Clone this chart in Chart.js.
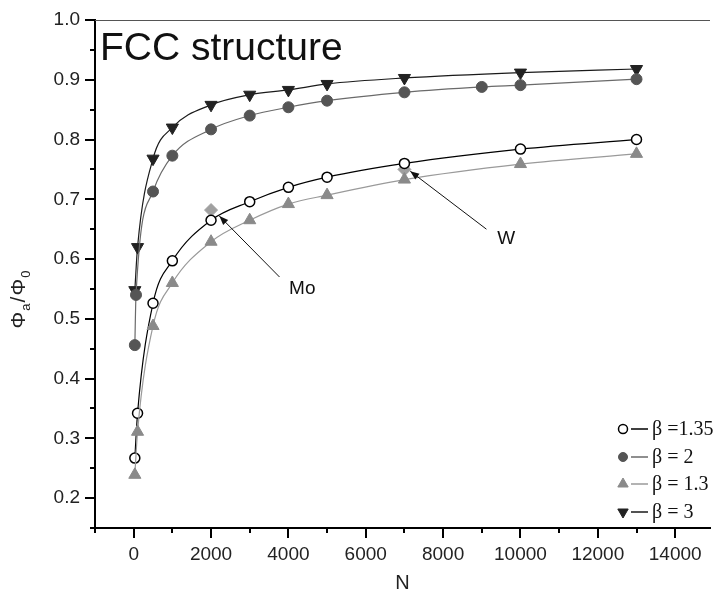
<!DOCTYPE html>
<html>
<head>
<meta charset="utf-8">
<script src="https://cdn.jsdelivr.net/npm/chart.js@4/dist/chart.umd.min.js"></script>
<style>
  html, body { margin: 0; padding: 0; background: #fff; }
  #wrap { width: 718px; height: 601px; }
</style>
</head>
<body>
<div id="wrap"><canvas id="phiChart" width="718" height="601"></canvas></div>
<script>
// cluster size N and the Φa/Φ0 ratio for each β
const nMain = [30, 100, 500, 1000, 2000, 3000, 4000, 5000, 7000, 10000, 13000];
const beta135 = [0.267, 0.342, 0.526, 0.597, 0.665, 0.696, 0.720, 0.737, 0.760, 0.784, 0.800];
const beta13 = [0.239, 0.311, 0.488, 0.560, 0.629, 0.665, 0.692, 0.707, 0.733, 0.759, 0.776];
const beta3 = [0.548, 0.620, 0.768, 0.820, 0.858, 0.875, 0.883, 0.893, 0.903, 0.912, 0.918];
const nBeta2 = [30, 60, 500, 1000, 2000, 3000, 4000, 5000, 7000, 9000, 10000, 13000];
const beta2 = [0.456, 0.540, 0.713, 0.773, 0.817, 0.840, 0.854, 0.865, 0.879, 0.888, 0.891, 0.901];

// measured metals
const metals = ['Mo', 'W'];
const metalN = [2000, 7000];
const metalPhi = [0.682, 0.750];

// where the metal labels and their arrows sit (data units)
const noteN = [4360, 9630];
const notePhi = [0.550, 0.634];
const arrowFromN = [3770, 9120];
const arrowFromPhi = [0.570, 0.650];
const arrowToN = [2215, 7150];
const arrowToPhi = [0.672, 0.747];

// axis ticks: every 1000 / 0.05, labelled every 2000 / 0.1
const xTickValues = [-1000, 0, 1000, 2000, 3000, 4000, 5000, 6000, 7000, 8000, 9000, 10000, 11000, 12000, 13000, 14000];
const xTickLabels = ['', '0', '', '2000', '', '4000', '', '6000', '', '8000', '', '10000', '', '12000', '', '14000'];
const yTickValues = [0.15, 0.2, 0.25, 0.3, 0.35, 0.4, 0.45, 0.5, 0.55, 0.6, 0.65, 0.7, 0.75, 0.8, 0.85, 0.9, 0.95, 1.0];
const yTickLabels = ['', '0.2', '', '0.3', '', '0.4', '', '0.5', '', '0.6', '', '0.7', '', '0.8', '', '0.9', '', '1.0'];

const legendLabels = ['β =1.35', 'β = 2', 'β = 1.3', 'β = 3'];

const pts = (xs, ys) => xs.map((x, i) => ({x: x, y: ys[i]}));

Chart.defaults.font.family = "'Liberation Sans', Arial, sans-serif";

const series = [
    {
        label: legendLabels[2], data: pts(nMain, beta13),
        borderColor: '#9a9a9a', backgroundColor: '#8a8a8a', pointBorderColor: '#8a8a8a',
        pointStyle: 'triangle', pointRadius: 7, pointRotation: 0
    },
    {
        label: legendLabels[0], data: pts(nMain, beta135),
        borderColor: '#000', backgroundColor: '#fff', pointBorderColor: '#000',
        pointStyle: 'circle', pointRadius: 5, pointBorderWidth: 1.5
    },
    {
        label: legendLabels[1], data: pts(nBeta2, beta2),
        borderColor: '#6a6a6a', backgroundColor: '#555', pointBorderColor: '#555',
        pointStyle: 'circle', pointRadius: 5.5
    },
    {
        label: legendLabels[3], data: pts(nMain, beta3),
        borderColor: '#1a1a1a', backgroundColor: '#222', pointBorderColor: '#222',
        pointStyle: 'triangle', pointRadius: 7, pointRotation: 180
    }
];

const datasets = series.map(s => Object.assign({
    borderWidth: 1.2,
    pointBackgroundColor: s.backgroundColor,
    pointBorderWidth: s.pointBorderWidth || 1,
    cubicInterpolationMode: 'monotone',
    fill: false
}, s));

datasets.push({
    label: 'metals', data: pts(metalN, metalPhi),
    showLine: false, pointStyle: 'rectRot', pointRadius: 6.5,
    pointBackgroundColor: '#a0a0a0', pointBorderColor: '#a0a0a0', pointBorderWidth: 1
});

const tickLabel = (values, labels) => v => {
    const i = values.findIndex(t => Math.abs(t - v) < 1e-6);
    return i < 0 ? '' : labels[i];
};

// frame line on top, short and long tick marks on both axes
const axisTicks = {
    id: 'axisTicks',
    afterDraw(chart) {
        const ctx = chart.ctx;
        const {left, right, top, bottom} = chart.chartArea;
        const xs = chart.scales.x, ys = chart.scales.y;
        ctx.save();
        ctx.strokeStyle = '#555';
        ctx.lineWidth = 1.2;
        ctx.beginPath();
        ctx.moveTo(left, top + 0.5);
        ctx.lineTo(right, top + 0.5);
        ctx.stroke();

        ctx.strokeStyle = '#000';
        ctx.lineWidth = 2;
        ctx.beginPath();
        xTickValues.forEach((v, i) => {
            const px = Math.round(xs.getPixelForValue(v));
            const len = xTickLabels[i] ? 10 : 5;
            ctx.moveTo(px, bottom);
            ctx.lineTo(px, bottom + len);
        });
        yTickValues.forEach((v, i) => {
            const py = Math.round(ys.getPixelForValue(v));
            const len = yTickLabels[i] ? 10 : 5;
            ctx.moveTo(left - len, py);
            ctx.lineTo(left, py);
        });
        ctx.stroke();
        ctx.restore();
    }
};

// Φa/Φ0 on the left, heading inside the plot, Mo / W notes and the key
const extras = {
    id: 'extras',
    afterDatasetsDraw(chart) {
        const ctx = chart.ctx;
        const xs = chart.scales.x, ys = chart.scales.y;
        const {left} = chart.chartArea;
        ctx.save();

        // heading
        ctx.fillStyle = '#111';
        ctx.font = "39px 'Liberation Sans', Arial, sans-serif";
        ctx.textBaseline = 'alphabetic';
        ctx.textAlign = 'left';
        ctx.fillText('FCC structure', left + 5, 60);

        // metal labels with arrows
        ctx.font = "19px 'Liberation Sans', Arial, sans-serif";
        ctx.textAlign = 'center';
        ctx.textBaseline = 'middle';
        metals.forEach((m, i) => {
            ctx.fillStyle = '#111';
            ctx.fillText(m, xs.getPixelForValue(noteN[i]), ys.getPixelForValue(notePhi[i]));
            const x0 = xs.getPixelForValue(arrowFromN[i]), y0 = ys.getPixelForValue(arrowFromPhi[i]);
            const x1 = xs.getPixelForValue(arrowToN[i]), y1 = ys.getPixelForValue(arrowToPhi[i]);
            ctx.strokeStyle = '#111';
            ctx.lineWidth = 1;
            ctx.beginPath();
            ctx.moveTo(x0, y0);
            ctx.lineTo(x1, y1);
            ctx.stroke();
            const a = Math.atan2(y1 - y0, x1 - x0);
            ctx.beginPath();
            ctx.moveTo(x1, y1);
            ctx.lineTo(x1 - 9 * Math.cos(a) + 3.5 * Math.sin(a), y1 - 9 * Math.sin(a) - 3.5 * Math.cos(a));
            ctx.lineTo(x1 - 9 * Math.cos(a) - 3.5 * Math.sin(a), y1 - 9 * Math.sin(a) + 3.5 * Math.cos(a));
            ctx.closePath();
            ctx.fill();
        });

        // y axis title, rotated, with subscripts
        ctx.translate(25, 299);
        ctx.rotate(-Math.PI / 2);
        ctx.textAlign = 'left';
        ctx.textBaseline = 'alphabetic';
        const big = "21px 'Liberation Sans', Arial, sans-serif";
        const small = "13px 'Liberation Sans', Arial, sans-serif";
        const parts = [['Φ', big, 0], ['a', small, 5], ['/', big, 0], ['Φ', big, 0], ['0', small, 5]];
        let total = 0;
        parts.forEach(p => { ctx.font = p[1]; total += ctx.measureText(p[0]).width + 1; });
        let cx = -total / 2;
        ctx.fillStyle = '#222';
        parts.forEach(p => {
            ctx.font = p[1];
            ctx.fillText(p[0], cx, p[2]);
            cx += ctx.measureText(p[0]).width + 1;
        });
        ctx.restore();

        // key in the lower right
        ctx.save();
        const rowY = [429, 457, 484, 512];
        const order = [1, 2, 0, 3];
        order.forEach((di, r) => {
            const ds = chart.data.datasets[di];
            const y = rowY[r];
            ctx.strokeStyle = ds.borderColor;
            ctx.lineWidth = 1.5;
            ctx.beginPath();
            ctx.moveTo(631, y);
            ctx.lineTo(648, y);
            ctx.stroke();
            ctx.fillStyle = ds.pointBackgroundColor;
            ctx.strokeStyle = ds.pointBorderColor;
            ctx.lineWidth = ds.pointBorderWidth;
            Chart.helpers.drawPoint(ctx, {
                pointStyle: ds.pointStyle,
                radius: ds.pointStyle === 'triangle' ? 6 : 4.5,
                rotation: ds.pointRotation || 0,
                borderWidth: ds.pointBorderWidth
            }, 623, y);
            ctx.fillStyle = '#111';
            ctx.font = "20px 'Liberation Serif', 'Times New Roman', serif";
            ctx.textAlign = 'left';
            ctx.textBaseline = 'middle';
            ctx.fillText(ds.label, 652, y + 1);
        });
        ctx.restore();
    }
};

new Chart(document.getElementById('phiChart'), {
    type: 'line',
    data: {datasets: datasets},
    plugins: [axisTicks, extras],
    options: {
        responsive: false,
        animation: false,
        layout: {padding: {top: 20, left: 0, right: 0, bottom: 0}},
        plugins: {
            legend: {display: false},
            tooltip: {enabled: false}
        },
        scales: {
            x: {
                type: 'linear',
                min: -1000,
                max: 14900,
                afterBuildTicks: s => { s.ticks = xTickValues.map(v => ({value: v})); },
                afterFit: s => { s.height = 73; },
                ticks: {
                    autoSkip: false,
                    maxRotation: 0,
                    padding: 5,
                    color: '#222',
                    font: {size: 19},
                    callback: tickLabel(xTickValues, xTickLabels)
                },
                grid: {drawOnChartArea: false, tickLength: 10, tickColor: 'transparent'},
                border: {color: '#000', width: 2},
                title: {display: true, text: 'N', color: '#222', font: {size: 20}, padding: {top: 0, bottom: 6}}
            },
            y: {
                min: 0.15,
                max: 1.0,
                afterBuildTicks: s => { s.ticks = yTickValues.map(v => ({value: v})); },
                afterFit: s => { s.width = 95; },
                ticks: {
                    autoSkip: false,
                    padding: 5,
                    color: '#222',
                    font: {size: 19},
                    callback: tickLabel(yTickValues, yTickLabels)
                },
                grid: {drawOnChartArea: false, tickLength: 10, tickColor: 'transparent'},
                border: {color: '#000', width: 2}
            }
        }
    }
});
</script>
</body>
</html>
